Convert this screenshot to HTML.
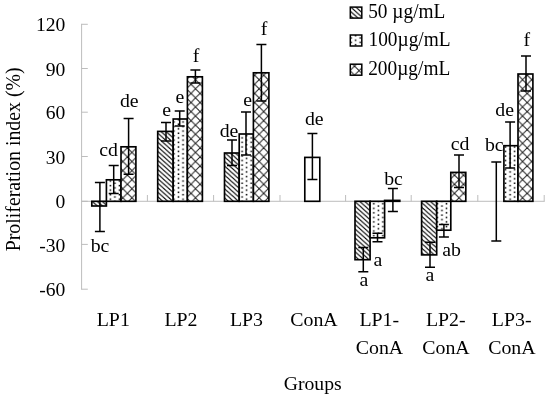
<!DOCTYPE html>
<html lang="en"><head><meta charset="utf-8"><title>Proliferation index chart</title>
<style>html,body{margin:0;padding:0;background:#fff;}body{width:550px;height:401px;overflow:hidden;}svg{display:block;}text{font-family:"Liberation Serif", "Times New Roman", serif;fill:#000;}</style></head><body>
<svg width="550" height="401" viewBox="0 0 550 401">
<defs>
<pattern id="st" patternUnits="userSpaceOnUse" width="5.047" height="4.543"><rect width="5.047" height="4.543" fill="#fff"/>
<line x1="-5.047" y1="-8.860" x2="10.094" y2="4.768" stroke="#000" stroke-width="1.15"/>
<line x1="-5.047" y1="-4.318" x2="10.094" y2="9.310" stroke="#000" stroke-width="1.15"/>
<line x1="-5.047" y1="0.225" x2="10.094" y2="13.853" stroke="#000" stroke-width="1.15"/>
</pattern>
<pattern id="dt" patternUnits="userSpaceOnUse" y="0.5" width="9.085" height="4.543"><rect width="9.085" height="4.543" fill="#fff"/>
<rect x="0.593" y="2.620" width="1.5" height="1.5" fill="#000"/>
<rect x="5.135" y="0.349" width="1.5" height="1.5" fill="#000"/>
</pattern>
<pattern id="ch" patternUnits="userSpaceOnUse" width="9.085" height="9.085"><rect width="9.085" height="9.085" fill="#fff"/>
<line x1="-1" y1="-7.815" x2="10.085" y2="3.270" stroke="#1a1a1a" stroke-width="0.95"/>
<line x1="-1" y1="1.270" x2="10.085" y2="12.355" stroke="#1a1a1a" stroke-width="0.95"/>
<line x1="-1" y1="10.355" x2="10.085" y2="21.440" stroke="#1a1a1a" stroke-width="0.95"/>
<line x1="-1" y1="3.680" x2="10.085" y2="-7.405" stroke="#1a1a1a" stroke-width="0.95"/>
<line x1="-1" y1="12.765" x2="10.085" y2="1.680" stroke="#1a1a1a" stroke-width="0.95"/>
<line x1="-1" y1="21.850" x2="10.085" y2="10.765" stroke="#1a1a1a" stroke-width="0.95"/>
</pattern>
</defs>
<rect width="550" height="401" fill="#fff"/>
<g stroke="#b9b9b9" stroke-width="0.95" fill="none">
<line x1="81.6" y1="23.8" x2="81.6" y2="289.7"/>
<line x1="81.6" y1="201.3" x2="544.7" y2="201.3"/>
<line x1="81.6" y1="24.3" x2="87.8" y2="24.3"/>
<line x1="81.6" y1="68.5" x2="87.8" y2="68.5"/>
<line x1="81.6" y1="112.2" x2="87.8" y2="112.2"/>
<line x1="81.6" y1="156.5" x2="87.8" y2="156.5"/>
<line x1="81.6" y1="201.3" x2="87.8" y2="201.3"/>
<line x1="81.6" y1="244.4" x2="87.8" y2="244.4"/>
<line x1="81.6" y1="289.2" x2="87.8" y2="289.2"/>
<line x1="147.4" y1="195" x2="147.4" y2="201.3"/>
<line x1="213.6" y1="195" x2="213.6" y2="201.3"/>
<line x1="280.0" y1="195" x2="280.0" y2="201.3"/>
<line x1="345.6" y1="195" x2="345.6" y2="201.3"/>
<line x1="411.2" y1="195" x2="411.2" y2="201.3"/>
<line x1="477.8" y1="195" x2="477.8" y2="201.3"/>
<line x1="544.2" y1="195" x2="544.2" y2="201.3"/>
</g>
<text x="65.3" y="31.4" font-size="19.6" text-anchor="end">120</text>
<text x="65.3" y="75.6" font-size="19.6" text-anchor="end">90</text>
<text x="65.3" y="119.3" font-size="19.6" text-anchor="end">60</text>
<text x="65.3" y="163.6" font-size="19.6" text-anchor="end">30</text>
<text x="65.3" y="208.4" font-size="19.6" text-anchor="end">0</text>
<text x="65.3" y="251.5" font-size="19.6" text-anchor="end">-30</text>
<text x="65.3" y="296.3" font-size="19.6" text-anchor="end">-60</text>
<text transform="translate(19.8 251.3) rotate(-90) scale(1 1.09)" font-size="19.85">Proliferation index (%)</text>
<text x="312.7" y="390" font-size="19.7" text-anchor="middle">Groups</text>
<rect x="91.80" y="201.30" width="14.60" height="4.70" fill="url(#st)" stroke="#000" stroke-width="1.65"/>
<rect x="106.40" y="179.80" width="14.60" height="21.50" fill="url(#dt)" stroke="#000" stroke-width="1.65"/>
<rect x="121.00" y="146.80" width="14.90" height="54.50" fill="url(#ch)" stroke="#000" stroke-width="1.65"/>
<rect x="157.70" y="131.40" width="15.50" height="69.90" fill="url(#st)" stroke="#000" stroke-width="1.65"/>
<rect x="173.20" y="119.00" width="14.20" height="82.30" fill="url(#dt)" stroke="#000" stroke-width="1.65"/>
<rect x="187.40" y="76.80" width="15.00" height="124.50" fill="url(#ch)" stroke="#000" stroke-width="1.65"/>
<rect x="224.50" y="153.00" width="14.70" height="48.30" fill="url(#st)" stroke="#000" stroke-width="1.65"/>
<rect x="239.20" y="134.00" width="14.20" height="67.30" fill="url(#dt)" stroke="#000" stroke-width="1.65"/>
<rect x="253.40" y="72.80" width="15.50" height="128.50" fill="url(#ch)" stroke="#000" stroke-width="1.65"/>
<rect x="304.80" y="157.40" width="15.00" height="43.90" fill="#fff" stroke="#000" stroke-width="1.65"/>
<rect x="355.00" y="201.30" width="15.10" height="58.40" fill="url(#st)" stroke="#000" stroke-width="1.65"/>
<rect x="370.10" y="201.30" width="14.50" height="36.50" fill="url(#dt)" stroke="#000" stroke-width="1.65"/>
<rect x="384.60" y="200.40" width="15.20" height="0.90" fill="url(#ch)" stroke="#000" stroke-width="1.65"/>
<rect x="421.60" y="201.30" width="15.10" height="53.60" fill="url(#st)" stroke="#000" stroke-width="1.65"/>
<rect x="436.70" y="201.30" width="14.10" height="28.90" fill="url(#dt)" stroke="#000" stroke-width="1.65"/>
<rect x="450.80" y="172.40" width="15.00" height="28.90" fill="url(#ch)" stroke="#000" stroke-width="1.65"/>
<rect x="503.90" y="145.70" width="14.10" height="55.60" fill="url(#dt)" stroke="#000" stroke-width="1.65"/>
<rect x="518.00" y="74.00" width="14.90" height="127.30" fill="url(#ch)" stroke="#000" stroke-width="1.65"/>
<g stroke="#000" stroke-width="1.5" fill="none">
<path d="M94.9 182.4H104.9M99.9 182.4V231.5M94.9 231.5H104.9"/>
<path d="M108.7 165.6H118.7M113.7 165.6V193.6M108.7 193.6H118.7"/>
<path d="M123.6 118.4H133.6M128.6 118.4V174.2M123.6 174.2H133.6"/>
<path d="M161.0 122.5H171.0M166.0 122.5V141.0M161.0 141.0H171.0"/>
<path d="M174.7 111.0H184.7M179.7 111.0V126.0M174.7 126.0H184.7"/>
<path d="M190.4 70.0H200.4M195.4 70.0V83.0M190.4 83.0H200.4"/>
<path d="M227.0 140.0H237.0M232.0 140.0V165.4M227.0 165.4H237.0"/>
<path d="M241.0 112.0H251.0M246.0 112.0V155.0M241.0 155.0H251.0"/>
<path d="M256.4 44.4H266.4M261.4 44.4V101.0M256.4 101.0H266.4"/>
<path d="M307.4 133.6H317.4M312.4 133.6V179.6M307.4 179.6H317.4"/>
<path d="M358.3 247.4H368.3M363.3 247.4V271.8M358.3 271.8H368.3"/>
<path d="M372.5 233.3H382.5M377.5 233.3V241.8M372.5 241.8H382.5"/>
<path d="M387.9 188.6H397.9M392.9 188.6V211.4M387.9 211.4H397.9"/>
<path d="M425.0 242.2H435.0M430.0 242.2V267.3M425.0 267.3H435.0"/>
<path d="M438.9 224.6H448.9M443.9 224.6V236.9M438.9 236.9H448.9"/>
<path d="M454.0 155.0H464.0M459.0 155.0V187.6M454.0 187.6H464.0"/>
<path d="M491.3 161.9H501.3M496.3 161.9V241.0M491.3 241.0H501.3"/>
<path d="M505.1 122.0H515.1M510.1 122.0V167.9M505.1 167.9H515.1"/>
<path d="M521.0 56.0H531.0M526.0 56.0V91.0M521.0 91.0H531.0"/>
</g>
<text x="100.0" y="252.4" font-size="19.8" text-anchor="middle">bc</text>
<text x="108.5" y="156.0" font-size="19.8" text-anchor="middle">cd</text>
<text x="129.3" y="107.4" font-size="19.8" text-anchor="middle">de</text>
<text x="166.6" y="116.4" font-size="19.8" text-anchor="middle">e</text>
<text x="180.0" y="102.8" font-size="19.8" text-anchor="middle">e</text>
<text x="196.1" y="61.8" font-size="19.8" text-anchor="middle">f</text>
<text x="229.0" y="137.4" font-size="19.8" text-anchor="middle">de</text>
<text x="247.6" y="106.0" font-size="19.8" text-anchor="middle">e</text>
<text x="264.1" y="34.8" font-size="19.8" text-anchor="middle">f</text>
<text x="314.3" y="124.8" font-size="19.8" text-anchor="middle">de</text>
<text x="364.0" y="286.4" font-size="19.8" text-anchor="middle">a</text>
<text x="378.0" y="265.5" font-size="19.8" text-anchor="middle">a</text>
<text x="393.5" y="185.4" font-size="19.8" text-anchor="middle">bc</text>
<text x="430.0" y="281.4" font-size="19.8" text-anchor="middle">a</text>
<text x="451.5" y="256.4" font-size="19.8" text-anchor="middle">ab</text>
<text x="460.0" y="149.8" font-size="19.8" text-anchor="middle">cd</text>
<text x="494.3" y="151.4" font-size="19.8" text-anchor="middle">bc</text>
<text x="504.6" y="116.4" font-size="19.8" text-anchor="middle">de</text>
<text x="526.9" y="46.4" font-size="19.8" text-anchor="middle">f</text>
<text x="113.3" y="326.3" font-size="19.85" text-anchor="middle">LP1</text>
<text x="181.0" y="326.3" font-size="19.85" text-anchor="middle">LP2</text>
<text x="246.5" y="326.3" font-size="19.85" text-anchor="middle">LP3</text>
<text x="314.0" y="326.3" font-size="19.85" text-anchor="middle">ConA</text>
<text x="379.3" y="326.3" font-size="19.85" text-anchor="middle">LP1-</text>
<text x="379.5" y="353.6" font-size="19.85" text-anchor="middle">ConA</text>
<text x="445.8" y="326.3" font-size="19.85" text-anchor="middle">LP2-</text>
<text x="446.0" y="353.6" font-size="19.85" text-anchor="middle">ConA</text>
<text x="511.7" y="326.3" font-size="19.85" text-anchor="middle">LP3-</text>
<text x="511.9" y="353.6" font-size="19.85" text-anchor="middle">ConA</text>
<rect x="350.3" y="7.1" width="11.5" height="11.0" fill="url(#st)" stroke="#000" stroke-width="1.5"/>
<text transform="translate(368.2 18.1) scale(0.977 1.04)" font-size="19.8">50 µg/mL</text>
<rect x="350.3" y="35.0" width="11.5" height="11.0" fill="url(#dt)" stroke="#000" stroke-width="1.5"/>
<text transform="translate(368.5 46.2) scale(0.977 1.04)" font-size="19.8">100µg/mL</text>
<rect x="350.3" y="64.2" width="11.5" height="11.0" fill="url(#ch)" stroke="#000" stroke-width="1.5"/>
<text transform="translate(368.2 75.2) scale(0.977 1.04)" font-size="19.8">200µg/mL</text>
</svg></body></html>
